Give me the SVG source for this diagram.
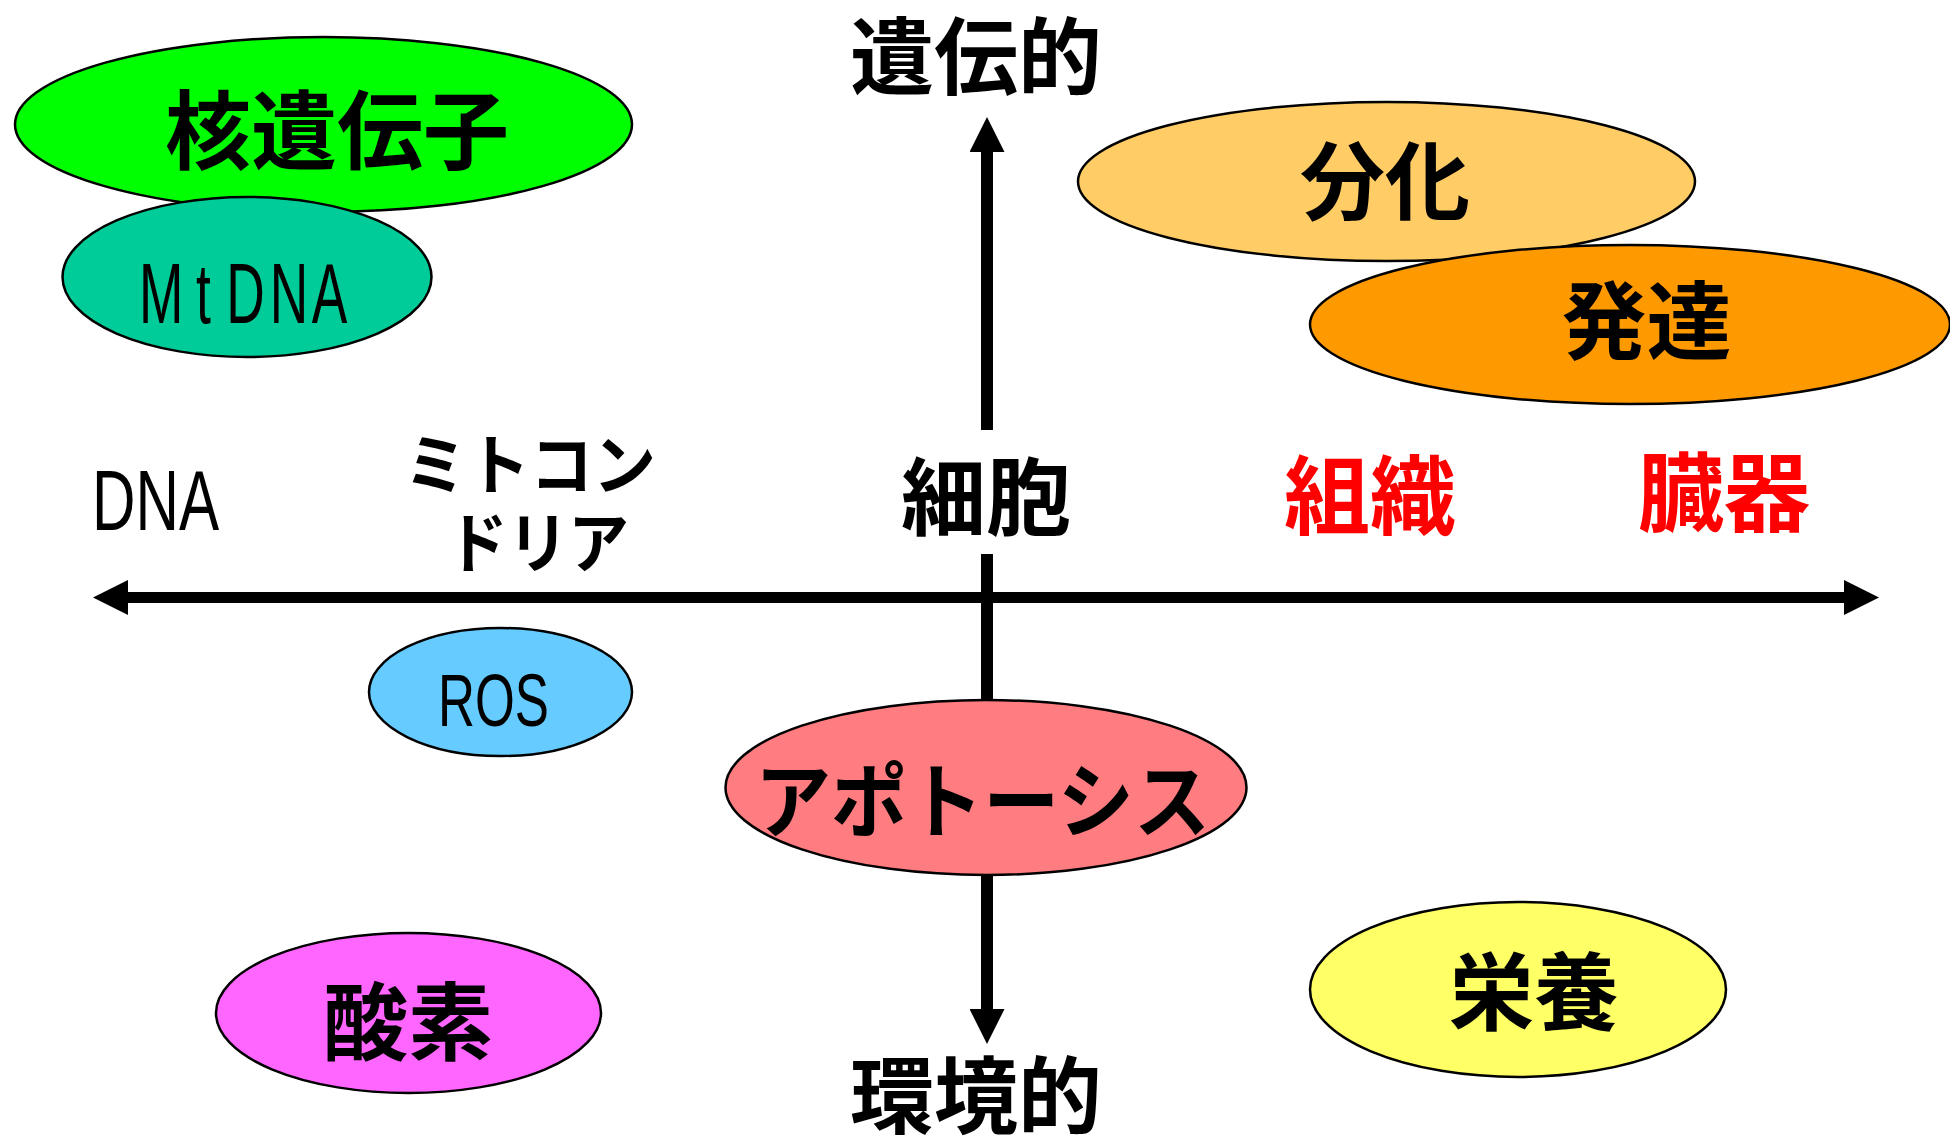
<svg xmlns="http://www.w3.org/2000/svg" width="1950" height="1137" viewBox="0 0 1950 1137">
<style>
.node{stroke:#000;stroke-width:2.5}
.jp{font-family:"Noto Sans CJK JP","Noto Sans CJK SC",sans-serif;font-weight:bold;fill:#000;text-anchor:middle}
.red{fill:#FF0000}
.lat{font-family:"Liberation Sans",Arial,sans-serif;fill:#000}
.ax{stroke:#000;fill:none}
</style>
<defs>
<marker id="ah" viewBox="0 0 35 35" refX="0" refY="17.5" markerWidth="35" markerHeight="35" markerUnits="userSpaceOnUse" orient="auto-start-reverse">
<path d="M0,0 L35,17.5 L0,35 Z" fill="#000"/>
</marker>
</defs>
<rect width="1950" height="1137" fill="#fff"/>
<g id="connectors">
<line class="ax" x1="128" y1="597.5" x2="1844" y2="597.5" stroke-width="11" marker-start="url(#ah)" marker-end="url(#ah)"/>
<line class="ax" x1="987" y1="430" x2="987" y2="152" stroke-width="12" marker-end="url(#ah)"/>
<line class="ax" x1="987" y1="554" x2="987" y2="1009" stroke-width="12" marker-end="url(#ah)"/>
</g>
<g id="label-iden"><text class="jp" x="976" y="88" font-size="84">遺伝的</text></g>
<g id="label-kankyo"><text class="jp" x="976" y="1127" font-size="84">環境的</text></g>
<g id="label-dna"><text class="lat" x="92" y="530" font-size="85" textLength="127" lengthAdjust="spacingAndGlyphs">DNA</text></g>
<g id="label-mito">
<text class="jp" x="530" y="489" font-size="66" textLength="252" lengthAdjust="spacingAndGlyphs">ミトコン</text>
<text class="jp" x="538" y="567" font-size="66" textLength="182" lengthAdjust="spacingAndGlyphs">ドリア</text>
</g>
<g id="label-saibo"><text class="jp" x="986" y="529" font-size="85">細胞</text></g>
<g id="label-soshiki"><text class="jp red" x="1370" y="528" font-size="86">組織</text></g>
<g id="label-zoki"><text class="jp red" x="1724" y="525" font-size="86">臓器</text></g>
<g id="node-kaku">
<ellipse class="node" cx="323.5" cy="124.5" rx="308.5" ry="87.5" fill="#00FF00"/>
<text class="jp" x="337" y="163" font-size="86">核遺伝子</text>
</g>
<g id="node-mtdna">
<ellipse class="node" cx="247" cy="277" rx="184.5" ry="80" fill="#00CC99"/>
<text class="lat" transform="scale(0.62,1)" x="224 316 365 435 503" y="323" font-size="86">MtDNA</text>
</g>
<g id="node-bunka">
<ellipse class="node" cx="1386.5" cy="181.5" rx="308.5" ry="79.5" fill="#FFCC66"/>
<text class="jp" x="1385" y="213" font-size="85">分化</text>
</g>
<g id="node-hattatsu">
<ellipse class="node" cx="1630" cy="324.5" rx="320" ry="79.5" fill="#FF9900"/>
<text class="jp" x="1646.5" y="353" font-size="85">発達</text>
</g>
<g id="node-ros">
<ellipse class="node" cx="500.5" cy="692" rx="131.5" ry="64" fill="#66CCFF"/>
<text class="lat" x="438" y="726" font-size="75" textLength="111" lengthAdjust="spacingAndGlyphs">ROS</text>
</g>
<g id="node-apoptosis">
<ellipse class="node" cx="986" cy="787.5" rx="260.5" ry="87.5" fill="#FF7C80"/>
<text class="jp" x="982.5" y="831" font-size="82" textLength="455" lengthAdjust="spacingAndGlyphs">アポトーシス</text>
</g>
<g id="node-sanso">
<ellipse class="node" cx="408.5" cy="1013" rx="192.5" ry="80" fill="#FF66FF"/>
<text class="jp" x="408" y="1054" font-size="85">酸素</text>
</g>
<g id="node-eiyo">
<ellipse class="node" cx="1518" cy="989.5" rx="208" ry="87.5" fill="#FFFF66"/>
<text class="jp" x="1534" y="1024" font-size="85">栄養</text>
</g>
</svg>
